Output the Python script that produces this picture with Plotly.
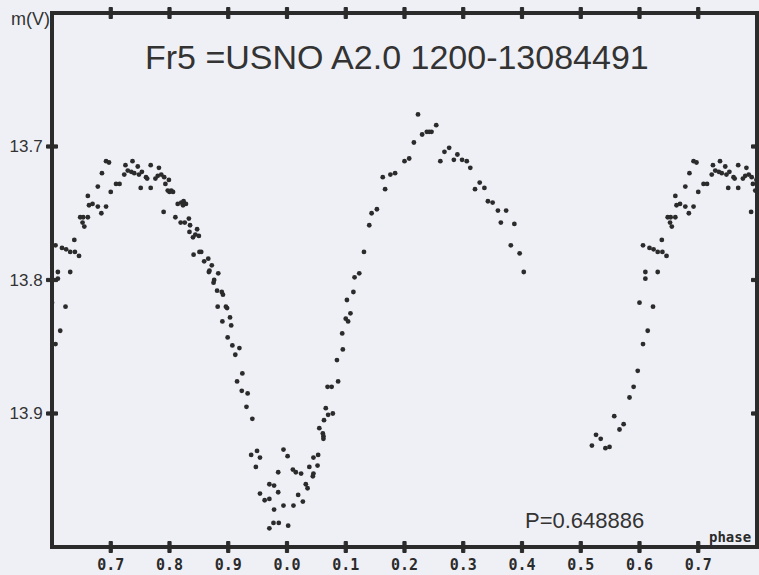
import plotly.graph_objects as go

# Phase (0..1) and V magnitude
phase = [
    0.600, 0.606, 0.614, 0.610, 0.610, 0.623, 0.631, 0.606, 0.617, 0.624,
    0.631, 0.639, 0.646, 0.638, 0.648, 0.653, 0.661, 0.652, 0.655, 0.661,
    0.663, 0.669, 0.678, 0.692, 0.684, 0.678, 0.685, 0.692, 0.697, 0.700,
    0.709, 0.715, 0.725, 0.737, 0.746, 0.768, 0.782, 0.723, 0.729, 0.735,
    0.740, 0.748, 0.753, 0.760, 0.762, 0.751, 0.768, 0.776, 0.780, 0.786,
    0.791, 0.799, 0.793, 0.797, 0.803, 0.806, 0.800,
    0.814, 0.820, 0.824, 0.828, 0.823, 0.790, 0.810, 0.819, 0.826, 0.833,
    0.835, 0.847, 0.834, 0.840, 0.844, 0.850, 0.841, 0.851, 0.854, 0.859,
    0.866, 0.872, 0.867, 0.868, 0.883, 0.876, 0.875, 0.881, 0.889, 0.891,
    0.882, 0.896, 0.898, 0.903, 0.890, 0.905, 0.899, 0.907, 0.919, 0.912,
    0.924, 0.915, 0.923, 0.933, 0.931, 0.941, 0.949, 0.939, 0.954, 0.947,
    0.994, 0.985, 0.970, 0.978, 0.985, 0.954, 0.962, 0.970, 0.978, 0.994,
    0.970, 0.977, 0.986,
    0.001, 0.010, 0.015, 0.024, 0.011, 0.019, 0.027, 0.032, 0.035, 0.002,
    0.038, 0.045, 0.044, 0.045, 0.053, 0.052, 0.055, 0.061, 0.062, 0.062,
    0.063, 0.066, 0.070, 0.078, 0.069, 0.076, 0.087, 0.085, 0.095, 0.094,
    0.100, 0.104, 0.108, 0.102, 0.113, 0.115, 0.123, 0.131, 0.140, 0.144,
    0.153, 0.163, 0.167, 0.176, 0.184, 0.200, 0.208, 0.216, 0.223, 0.230,
    0.238, 0.242, 0.246, 0.254, 0.261, 0.268, 0.276, 0.284, 0.290, 0.298,
    0.306, 0.312, 0.320, 0.328, 0.336, 0.342, 0.350, 0.359, 0.373, 0.364,
    0.387, 0.381, 0.396, 0.403,
    0.519, 0.526, 0.534, 0.542, 0.549, 0.557, 0.566, 0.573, 0.583, 0.590,
    0.597,
]
mag = [
    13.817, 13.848, 13.838, 13.794, 13.799, 13.820, 13.794, 13.774, 13.776, 13.777,
    13.779, 13.779, 13.782, 13.770, 13.753, 13.753, 13.753, 13.757, 13.760, 13.737,
    13.744, 13.743, 13.745, 13.745, 13.750, 13.730, 13.720, 13.711, 13.712, 13.734,
    13.728, 13.728, 13.714, 13.711, 13.715, 13.714, 13.716, 13.721, 13.718, 13.719,
    13.720, 13.721, 13.719, 13.723, 13.724, 13.731, 13.731, 13.724, 13.722, 13.721,
    13.723, 13.725, 13.728, 13.733, 13.733, 13.734, 13.734,
    13.743, 13.742, 13.741, 13.743, 13.744, 13.749, 13.753, 13.757, 13.757, 13.754,
    13.759, 13.762, 13.764, 13.768, 13.766, 13.767, 13.781, 13.779, 13.779, 13.786,
    13.784, 13.789, 13.794, 13.793, 13.795, 13.800, 13.802, 13.808, 13.809, 13.811,
    13.820, 13.820, 13.821, 13.828, 13.831, 13.834, 13.843, 13.849, 13.851, 13.856,
    13.870, 13.876, 13.883, 13.885, 13.895, 13.904, 13.928, 13.931, 13.933, 13.940,
    13.927, 13.944, 13.953, 13.954, 13.959, 13.960, 13.965, 13.964, 13.972, 13.969,
    13.986, 13.982, 13.982,
    13.932, 13.942, 13.944, 13.945, 13.969, 13.961, 13.966, 13.953, 13.956, 13.984,
    13.940, 13.945, 13.947, 13.933, 13.931, 13.939, 13.911, 13.915, 13.917, 13.919,
    13.905, 13.896, 13.901, 13.900, 13.880, 13.880, 13.876, 13.860, 13.852, 13.840,
    13.829, 13.831, 13.825, 13.815, 13.809, 13.798, 13.795, 13.779, 13.759, 13.750,
    13.747, 13.723, 13.732, 13.721, 13.720, 13.711, 13.709, 13.697, 13.676, 13.691,
    13.689, 13.689, 13.689, 13.684, 13.711, 13.704, 13.701, 13.710, 13.706, 13.710,
    13.711, 13.716, 13.732, 13.727, 13.731, 13.741, 13.742, 13.748, 13.748, 13.757,
    13.758, 13.774, 13.780, 13.794,
    13.924, 13.916, 13.919, 13.926, 13.925, 13.902, 13.912, 13.908, 13.888, 13.880,
    13.868,
]

x_tick_vals = [0.7, 0.8, 0.9, 1.0, 1.1, 1.2, 1.3, 1.4, 1.5, 1.6, 1.7]
x_tick_text = ["0.7", "0.8", "0.9", "0.0", "0.1", "0.2", "0.3", "0.4", "0.5", "0.6", "0.7"]
y_tick_vals = [13.7, 13.8, 13.9]
y_tick_text = ["13.7", "13.8", "13.9"]

title_text = "Fr5 =USNO A2.0 1200-13084491"
period_text = "P=0.648886"

X_MIN, X_MAX = 0.6, 1.8
Y_MIN, Y_MAX = 13.6, 14.0

# fold onto the displayed 1.2-cycle window
xs, ys = [], []
for p, m in zip(phase, mag):
    base = p if p >= X_MIN else p + 1.0
    xs.append(base)
    ys.append(m)
    if base + 1.0 <= X_MAX:
        xs.append(base + 1.0)
        ys.append(m)

W, H = 759, 575
ML, MR, MT, MB = 52, 2, 13, 28
pw = W - ML - MR
ph = H - MT - MB

bg = "#eff0f6"
ink = "#2b2b2b"
clear = "rgba(0,0,0,0)"

fig = go.Figure()
fig.add_trace(go.Scatter(
    x=xs, y=ys, mode="markers",
    marker=dict(size=4.8, color=ink, line=dict(width=0)),
    hoverinfo="skip", showlegend=False,
))

# frame and crossing tick marks (positions derived from the tick arrays)
shapes = [dict(type="rect", xref="paper", yref="paper", x0=0, x1=1, y0=0, y1=1,
               line=dict(color=ink, width=4), layer="above")]
half_len_x = 5.5 / ph
half_w_x = 1.6 / pw
half_len_y = 5.5 / pw
half_w_y = 1.6 / ph
for v in x_tick_vals:
    xp = (v - X_MIN) / (X_MAX - X_MIN)
    for yc in (0.0, 1.0):
        shapes.append(dict(type="rect", xref="paper", yref="paper",
                           x0=xp - half_w_x, x1=xp + half_w_x,
                           y0=yc - half_len_x, y1=yc + half_len_x,
                           fillcolor=ink, line=dict(color=ink, width=1),
                           layer="above"))
for v in y_tick_vals:
    yp = (Y_MAX - v) / (Y_MAX - Y_MIN)
    for xc in (0.0, 1.0):
        shapes.append(dict(type="rect", xref="paper", yref="paper",
                           x0=xc - half_len_y, x1=xc + half_len_y,
                           y0=yp - half_w_y, y1=yp + half_w_y,
                           fillcolor=ink, line=dict(color=ink, width=1),
                           layer="above"))

fig.update_layout(
    width=W, height=H,
    margin=dict(l=ML, r=MR, t=MT, b=MB),
    paper_bgcolor=bg, plot_bgcolor=bg,
    xaxis=dict(range=[X_MIN, X_MAX], tickvals=x_tick_vals,
               ticktext=["<b>%s</b>" % t for t in x_tick_text],
               ticks="outside", ticklen=4, tickcolor=clear,
               showline=False, showgrid=False, zeroline=False, automargin=False,
               tickfont=dict(family="DejaVu Sans Mono", size=15, color=ink)),
    yaxis=dict(range=[Y_MAX, Y_MIN], tickvals=y_tick_vals, ticktext=y_tick_text,
               ticks="outside", ticklen=5, tickcolor=clear,
               showline=False, showgrid=False, zeroline=False, automargin=False,
               tickfont=dict(family="Liberation Sans, Arial", size=17, color="#333")),
    shapes=shapes,
    annotations=[
        dict(text=title_text, xref="paper", yref="paper", x=0.489, y=0.918,
             xanchor="center", yanchor="middle", showarrow=False,
             font=dict(family="Liberation Sans, Arial", size=34, color="#333")),
        dict(text=period_text, xref="paper", yref="paper", x=0.668, y=0.05,
             xanchor="left", yanchor="middle", showarrow=False,
             font=dict(family="Liberation Sans, Arial", size=22, color="#333")),
        dict(text="m(V)", xref="paper", yref="paper", x=0.0, y=0.988,
             xanchor="right", yanchor="middle", showarrow=False,
             font=dict(family="Liberation Sans, Arial", size=18, color="#333")),
        dict(text="<b>phase</b>", xref="paper", yref="paper", x=0.994, y=0.018,
             xanchor="right", yanchor="middle", showarrow=False,
             font=dict(family="DejaVu Sans Mono", size=14, color=ink)),
    ],
)

fig.write_html("out.html", config={"displayModeBar": False},
               post_script="document.body.style.margin='0';")
